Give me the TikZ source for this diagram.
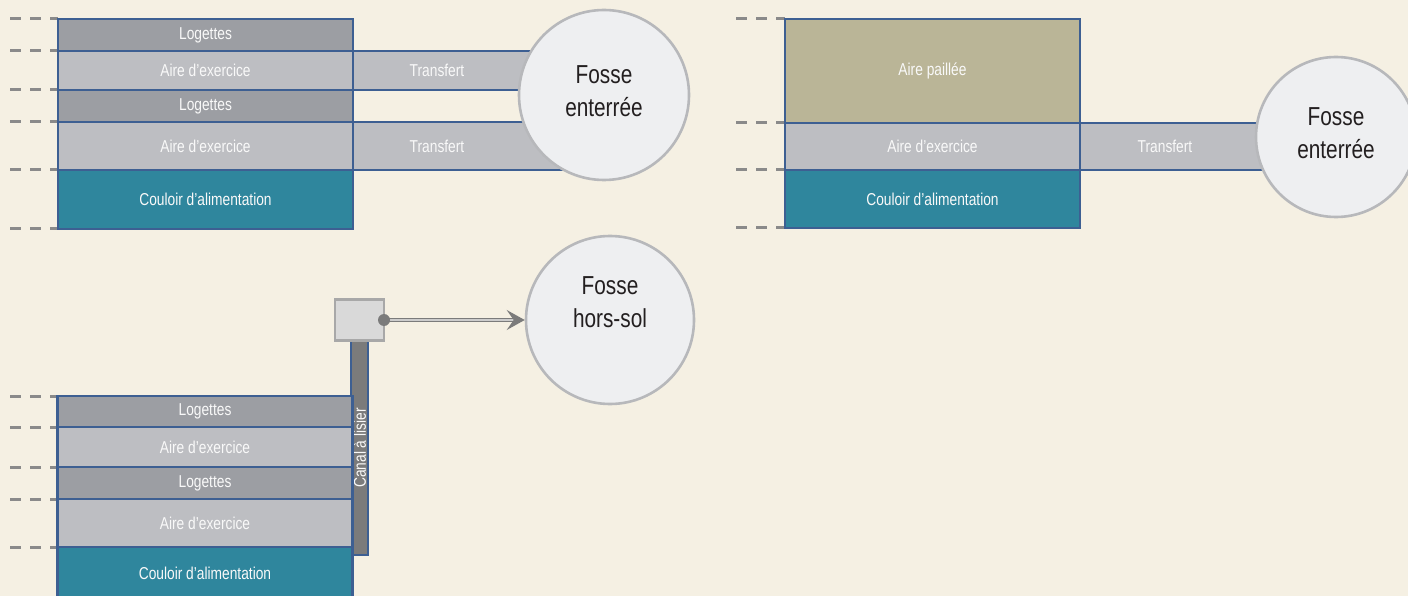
\documentclass[tikz,border=0pt]{standalone}
\usepackage{fontspec}
\setmainfont{Liberation Sans}[FakeStretch=0.8]
\usetikzlibrary{arrows.meta}
\definecolor{bg}{HTML}{F5F0E3}
\definecolor{edge}{HTML}{3D5F92}
\definecolor{loge}{HTML}{9C9EA3}
\definecolor{aire}{HTML}{BDBEC2}
\definecolor{teal}{HTML}{2F869D}
\definecolor{paille}{HTML}{BAB597}
\definecolor{dashc}{HTML}{8A8A8A}
\definecolor{circfill}{HTML}{EEEFF1}
\definecolor{circedge}{HTML}{B7B8BB}
\definecolor{canalc}{HTML}{7B7B7B}
\definecolor{boxfill}{HTML}{D9D9D9}
\definecolor{boxedge}{HTML}{A8A8A8}
\definecolor{txtdark}{HTML}{231F20}
\tikzset{
  row/.style={rectangle, draw=edge, line width=2.6pt, inner sep=0pt, outer sep=0pt,
    minimum width=#1, text=white!95!gray, font=\fontsize{17.2}{20}\selectfont},
  logrow/.style={row=295, fill=loge},
  airerow/.style={row=295, fill=aire},
  coulrow/.style={row=295, fill=teal},
  paillerow/.style={row=295, fill=paille},
  xfer/.style={rectangle, fill=aire, inner sep=0pt, outer sep=0pt, minimum width=#1,
    text=white!95!gray, font=\fontsize{17.2}{20}\selectfont},
  xline/.style={draw=edge, line width=2.6pt},
  fosse/.style={circle, fill=circfill, draw=circedge, line width=2.6pt, inner sep=0pt,
    minimum size=#1},
  fossetext/.style={inner sep=0pt, text=txtdark, align=center, font=\fontsize{26}{33}\selectfont},
  guide/.style={draw=dashc, line width=3pt, dash pattern=on 11pt off 9pt},
}
\begin{document}
\begin{tikzpicture}[x=1pt,y=-1pt]
\clip (0,0) rectangle (1408,596);
\fill[bg] (0,0) rectangle (1408,596);

% ---------- top-left ----------
\foreach \yy in {19,51,90,122,170,229} \draw[guide] (10,\yy) -- (58,\yy);
\node[xfer=168, minimum height=39] (t1) at (437,70.5) {Transfert};
\node[xfer=168, minimum height=48] (t2) at (437,146) {Transfert};
\coordinate (f1c) at (604,95);
\fill[aire] (t1.north east) rectangle (f1c |- t1.south);
\fill[aire] (t2.north east) rectangle (f1c |- t2.south);
\draw[xline] (t1.north west) -- (f1c |- t1.north);
\draw[xline] (t1.south west) -- (f1c |- t1.south);
\draw[xline] (t2.north west) -- (f1c |- t2.north);
\draw[xline] (t2.south west) -- (f1c |- t2.south);
\node[logrow, minimum height=32] (l1) at (205.5,35) {Logettes};
\node[airerow, minimum height=39] (a1) at (205.5,70.5) {Aire d’exercice};
\node[logrow, minimum height=32] (l2) at (205.5,106) {Logettes};
\node[airerow, minimum height=48] (a2) at (205.5,146) {Aire d’exercice};
\node[coulrow, minimum height=59] (c1) at (205.5,199.5) {Couloir d’alimentation};
\node[fosse=170] (f1) at (f1c) {};
\node[fossetext] (f1t) at ([yshift=4pt]f1.center) {Fosse\\enterrée};

% ---------- top-right ----------
\foreach \yy in {19,123,170,228} \draw[guide] (736,\yy) -- (785,\yy);
\node[xfer=170, minimum height=47] (t3) at (1165,146.5) {Transfert};
\coordinate (f2c) at (1336,137);
\fill[aire] (t3.north east) rectangle (f2c |- t3.south);
\draw[xline] (t3.north west) -- (f2c |- t3.north);
\draw[xline] (t3.south west) -- (f2c |- t3.south);
\node[paillerow, minimum height=104] (p2) at (932.5,71) {Aire paillée};
\node[airerow, minimum height=47] (a3) at (932.5,146.5) {Aire d’exercice};
\node[coulrow, minimum height=58] (c2) at (932.5,199) {Couloir d’alimentation};
\node[fosse=160] (f2) at (f2c) {};
\node[fossetext] (f2t) at ([yshift=3.5pt]f2.center) {Fosse\\enterrée};

% ---------- bottom-left ----------
\foreach \yy in {396,427,467,499,547} \draw[guide] (10,\yy) -- (58,\yy);
\node[row=214, fill=canalc, minimum height=17, rotate=90] (canal) at (359.5,448) {Canal à lisier};
\node[logrow, minimum height=31] (l3) at (205,411.5) {Logettes};
\node[airerow, minimum height=40] (a4) at (205,447) {Aire d’exercice};
\node[logrow, minimum height=32] (l4) at (205,483) {Logettes};
\node[airerow, minimum height=48] (a5) at (205,523) {Aire d’exercice};
\node[coulrow, minimum height=52] (c3) at (205,573) {Couloir d’alimentation};
\node[rectangle, fill=boxfill, draw=boxedge, line width=2.2pt, minimum width=49, minimum height=41, inner sep=0pt, outer sep=0pt] (pump) at (359.5,320) {};
\node[fosse=168] (f3) at (610,320) {};
\node[fossetext] (f3t) at ([yshift=18pt]f3.center) {Fosse\\hors-sol};
\draw[draw=canalc, line width=1.5pt, double=gray!40, double distance=1.2pt,
  -{Stealth[length=18pt, width=20pt, inset=7pt, fill=canalc]}] (pump.east) -- (f3.west);
\fill[canalc] (pump.east) circle (6);
\end{tikzpicture}
\end{document}
